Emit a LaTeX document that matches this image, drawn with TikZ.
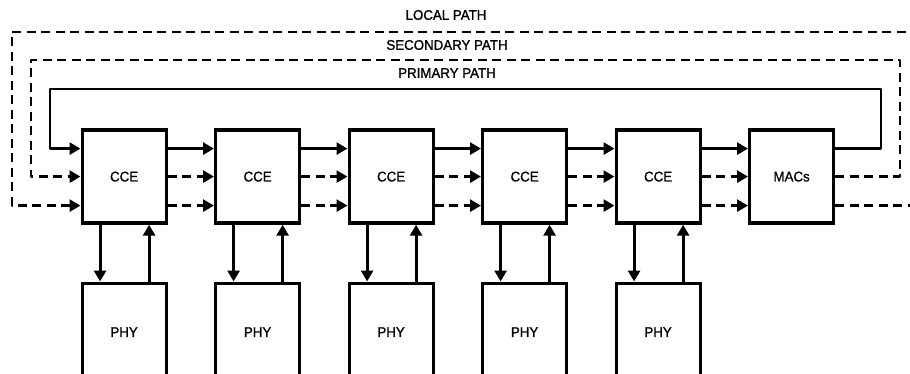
\documentclass[tikz,border=0pt]{standalone}
\usepackage{fontspec}
\setmainfont[FakeStretch=0.95,FakeBold=1.2]{Liberation Sans}
\usetikzlibrary{arrows.meta,calc}
\begin{document}
\begin{tikzpicture}[x=1pt,y=-1pt,
  box/.style={draw,line width=3.2pt,minimum width=84pt,minimum height=93pt,inner sep=0pt,anchor=north west,font=\fontsize{14}{14}\selectfont},
  phybox/.style={box,minimum height=98pt},
  conn/.style={line width=2.8pt,-{Triangle[length=11pt,width=12pt]}},
  dline/.style={line width=2.8pt,dash pattern=on 9pt off 5.5pt},
  lbl/.style={font=\fontsize{14}{14}\selectfont}]
\useasboundingbox (0,0) rectangle (910,374);
\clip (0,0) rectangle (910,374);
% CCE and PHY boxes
\foreach \i/\x in {1/80.5,2/214,3/347.5,4/481,5/614.5}{
  \node[box] (c\i) at (\x,128.5) {CCE};
  \node[phybox] (p\i) at (\x,281.5) {PHY};
}
\node[box] (mac) at (748,128.5) {MACs};
% labels
\node[lbl] (tl) at (446,15) {LOCAL PATH};
\node[lbl] (ts) at (447,45) {SECONDARY PATH};
\node[lbl] (tp) at (447,73) {PRIMARY PATH};
% horizontal links
\foreach \a/\b in {c1/c2,c2/c3,c3/c4,c4/c5,c5/mac}{
  \draw[conn] ([yshift=28pt]\a.east) -- ([yshift=28pt]\b.west);
  \draw[conn,dline] (\a.east) -- (\b.west);
  \draw[conn,dline] ([yshift=-29pt]\a.east) -- ([yshift=-29pt]\b.west);
}
% CCE <-> PHY
\foreach \i in {1,...,5}{
  \draw[conn] ([xshift=-24pt]c\i.south) -- ([xshift=-24pt]p\i.north);
  \draw[conn] ([xshift=25pt]p\i.north) -- ([xshift=25pt]c\i.south);
}
% primary path
\coordinate (pr1) at (881,89);
\coordinate (pr2) at (50,89);
\draw[conn,line join=round] ([yshift=28pt]mac.east) -| (pr1) -- (pr2) |- ([yshift=28pt]c1.west);
% secondary path
\coordinate (se1) at (900,60);
\coordinate (se2) at (31,60);
\draw[conn,dline,line join=round] (mac.east) -| (se1) -- (se2) |- (c1.west);
% local path
\coordinate (lo1) at (920,32);
\coordinate (lo2) at (12,32);
\draw[conn,dline,line join=round] (lo1) -- (lo2) |- ([yshift=-29pt]c1.west);
\draw[dline] ([yshift=-29pt]mac.east) -- ++(100,0);
\end{tikzpicture}
\end{document}
